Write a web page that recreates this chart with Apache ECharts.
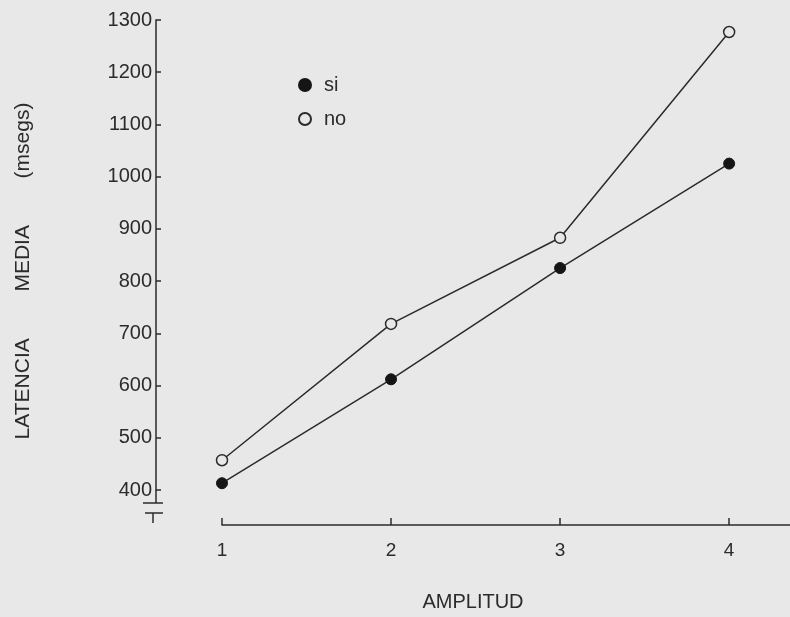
<!DOCTYPE html>
<html>
<head>
<meta charset="utf-8">
<script src="https://cdn.jsdelivr.net/npm/echarts@6/dist/echarts.min.js"></script>
<style>
  html, body { margin: 0; padding: 0; background: #e8e8e8; }
  #canvas { width: 790px; height: 617px; }
</style>
</head>
<body>
<div id="canvas"></div>
<script>
var amplitud = [1, 2, 3, 4];
var siData = [413, 612, 825, 1025];
var noData = [457, 718, 883, 1277];
var yTicks = [400, 500, 600, 700, 800, 900, 1000, 1100, 1200, 1300];

var ink = '#2b2b2b';
var font = 'Liberation Sans';

function pairs(xs, ys){
	var out = [];
	for (var i = 0; i < xs.length; i++) out.push([xs[i], ys[i]]);
	return out;
}

var myChart = echarts.init(document.getElementById('canvas'));
var option = {
	animation: false,
	backgroundColor: '#e8e8e8',
	textStyle: { fontFamily: font, color: ink },
	grid: { left: 222, right: 0, top: 20, bottom: 127, outerBoundsMode: 'none', containLabel: false },
	legend: {
		orient: 'vertical',
		left: 293,
		top: 70,
		itemGap: 14,
		itemWidth: 12,
		itemHeight: 12,
		textStyle: { fontFamily: font, fontSize: 20, color: ink, padding: [0, 0, 0, 8] },
		data: [
			{ name: 'si', icon: 'circle' },
			{ name: 'no', icon: 'circle' }
		]
	},
	xAxis: {
		type: 'value',
		min: 1,
		max: 4.36,
		interval: 1,
		offset: 35,
		name: 'AMPLITUD',
		nameLocation: 'middle',
		nameGap: 67,
		nameTextStyle: { fontFamily: font, fontSize: 20, color: ink, padding: [0, 66, 0, 0] },
		axisLine: { lineStyle: { color: ink, width: 1.5 } },
		axisTick: { inside: true, length: 7, customValues: amplitud, lineStyle: { color: ink, width: 1.5 } },
		axisLabel: { customValues: amplitud, margin: 16, fontFamily: font, fontSize: 19, color: ink },
		splitLine: { show: false }
	},
	yAxis: {
		type: 'value',
		min: 400,
		max: 1300,
		interval: 100,
		offset: 66,
		name: 'LATENCIA        MEDIA        (msegs)',
		nameLocation: 'middle',
		nameGap: 122,
		nameTextStyle: { fontFamily: font, fontSize: 21, color: ink, padding: [0, 32, 0, 0] },
		axisLine: { show: true, lineStyle: { color: ink, width: 1.5 } },
		axisTick: { show: true, inside: true, length: 5, lineStyle: { color: ink, width: 1.5 } },
		axisLabel: {
			margin: 4, fontFamily: font, fontSize: 20, color: ink,
			formatter: function(v){ return yTicks.indexOf(v) >= 0 ? String(v) : ''; }
		},
		splitLine: { show: false }
	},
	graphic: [
		{ type: 'line', shape: { x1: 156, y1: 490, x2: 156, y2: 503 }, style: { stroke: ink, lineWidth: 1.5 } },
		{ type: 'line', shape: { x1: 143, y1: 503, x2: 163, y2: 503 }, style: { stroke: ink, lineWidth: 1.5 } },
		{ type: 'line', shape: { x1: 145, y1: 513, x2: 163, y2: 513 }, style: { stroke: ink, lineWidth: 1.5 } },
		{ type: 'line', shape: { x1: 153, y1: 513, x2: 153, y2: 523 }, style: { stroke: ink, lineWidth: 1.5 } }
	],
	series: [
		{
			name: 'si',
			type: 'line',
			data: pairs(amplitud, siData),
			symbol: 'circle',
			symbolSize: 11,
			lineStyle: { color: ink, width: 1.5 },
			itemStyle: { color: '#151515', borderColor: '#151515', borderWidth: 1 }
		},
		{
			name: 'no',
			type: 'line',
			data: pairs(amplitud, noData),
			symbol: 'circle',
			symbolSize: 11,
			lineStyle: { color: ink, width: 1.5 },
			itemStyle: { color: '#e8e8e8', borderColor: ink, borderWidth: 1.5 }
		}
	]
};
myChart.setOption(option);
</script>
</body>
</html>
